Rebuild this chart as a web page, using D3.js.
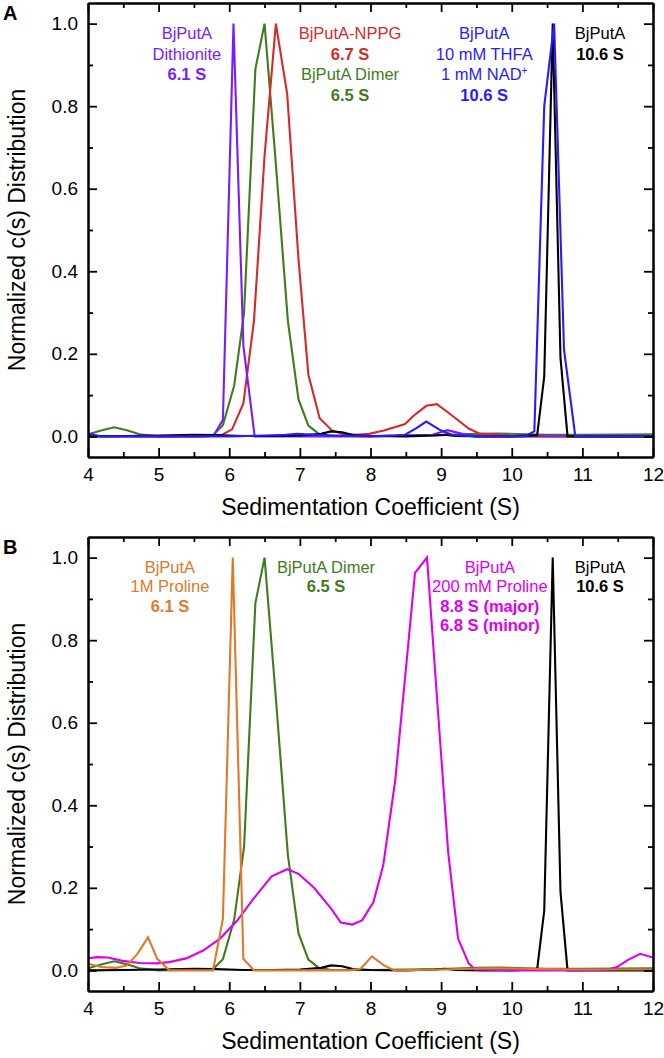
<!DOCTYPE html>
<html>
<head>
<meta charset="utf-8">
<script src="https://cdn.jsdelivr.net/npm/d3@7/dist/d3.min.js"></script>
<style>
  html, body { margin: 0; padding: 0; background: #fff; }
  svg { display: block; font-family: "Liberation Sans", Arial, sans-serif; }
</style>
</head>
<body>
<svg id="chart" width="664" height="1058"></svg>
<script>
// ---------------- DATA ----------------
const xTicks = [4, 5, 6, 7, 8, 9, 10, 11, 12];
const xMinorTicks = [4.5, 5.5, 6.5, 7.5, 8.5, 9.5, 10.5, 11.5];
const yTicks = [0, 0.2, 0.4, 0.6, 0.8, 1.0];
const yMinorTicks = [0.1, 0.3, 0.5, 0.7, 0.9];
const xTitle = "Sedimentation Coefficient (S)";
const yTitle = "Normalized c(s) Distribution";

// BjPutA (reference, 10.6 S) - shared by both panels
const blackS = [4.0, 4.5, 5.0, 5.5, 5.8, 6.2, 6.6, 7.0, 7.3, 7.44, 7.6, 7.75, 8.0, 8.5, 8.9, 9.05, 9.2, 9.6, 10.0, 10.36, 10.46, 10.58, 10.69, 10.79, 11.0, 11.5, 12.0];
const blackV = [0.0, 0.001, 0.002, 0.004, 0.003, 0.001, 0.001, 0.002, 0.006, 0.012, 0.01, 0.003, 0.001, 0.0, 0.002, 0.004, 0.001, 0.0, 0.0, 0.003, 0.145, 1.0, 0.19, 0.0, 0.0, 0.0, 0.0];

// BjPutA Dimer (6.5 S) - shared by both panels
const greenS = [4.0, 4.2, 4.37, 4.55, 4.73, 5.0, 5.5, 5.77, 5.91, 6.07, 6.21, 6.37, 6.5, 6.66, 6.83, 6.98, 7.12, 7.27, 7.45, 8.0, 8.5, 9.0, 9.5, 9.8, 10.2, 10.5, 11.0, 12.0];
const greenV = [0.005, 0.015, 0.022, 0.015, 0.005, 0.0, 0.002, 0.003, 0.027, 0.123, 0.3, 0.89, 1.0, 0.66, 0.28, 0.09, 0.026, 0.006, 0.001, 0.001, 0.002, 0.003, 0.006, 0.007, 0.005, 0.004, 0.004, 0.005];

// BjPutA-NPPG (6.7 S)
const redS = [4.0, 4.5, 5.0, 5.5, 5.9, 6.04, 6.2, 6.35, 6.5, 6.66, 6.82, 6.98, 7.12, 7.28, 7.45, 7.6, 7.8, 7.98, 8.19, 8.34, 8.49, 8.61, 8.79, 8.94, 9.09, 9.24, 9.39, 9.54, 9.72, 10.0, 10.5, 11.0, 12.0];
const redV = [0.001, 0.001, 0.0, 0.0, 0.004, 0.017, 0.08, 0.28, 0.68, 1.0, 0.83, 0.43, 0.15, 0.044, 0.015, 0.006, 0.004, 0.006, 0.014, 0.022, 0.03, 0.05, 0.074, 0.078, 0.059, 0.039, 0.019, 0.007, 0.005, 0.001, 0.0, 0.0, 0.0];

// BjPutA 10 mM THFA 1 mM NAD+ (10.6 S)
const blueS = [4.0, 4.19, 4.5, 5.0, 5.5, 6.0, 6.5, 6.8, 6.96, 7.2, 7.5, 8.0, 8.35, 8.49, 8.65, 8.79, 8.9, 9.0, 9.15, 9.5, 10.0, 10.18, 10.32, 10.46, 10.6, 10.74, 10.9, 11.0, 11.5, 12.0];
const blueV = [0.006, 0.0, 0.0, 0.0, 0.0, 0.0, 0.002, 0.004, 0.006, 0.004, 0.002, 0.0, 0.002, 0.004, 0.02, 0.036, 0.024, 0.014, 0.004, 0.0, 0.0, 0.0, 0.012, 0.8, 1.0, 0.21, 0.0, 0.0, 0.0, 0.0];

// BjPutA Dithionite (6.1 S)
const purpleS = [4.0, 5.0, 5.65, 5.78, 5.91, 6.06, 6.2, 6.36, 7.0, 8.0, 8.88, 9.09, 9.3, 9.48, 10.0, 11.0, 12.0];
const purpleV = [0.0, 0.0, 0.0, 0.002, 0.04, 1.0, 0.22, 0.0, 0.0, 0.0, 0.004, 0.015, 0.006, 0.0, 0.0, 0.0, 0.0];

// BjPutA 1M Proline (6.1 S)
const orangeS = [4.0, 4.19, 4.4, 4.55, 4.7, 4.85, 4.98, 5.15, 5.5, 5.77, 5.91, 6.05, 6.2, 6.35, 7.0, 7.7, 7.86, 8.02, 8.19, 8.34, 9.0, 9.7, 10.5, 11.0, 12.0];
const orangeV = [0.016, 0.008, 0.006, 0.012, 0.04, 0.08, 0.028, 0.0, 0.0, 0.0, 0.125, 1.0, 0.028, 0.0, 0.0, 0.0, 0.004, 0.034, 0.012, 0.0, 0.002, 0.005, 0.003, 0.002, 0.002];

// BjPutA 200 mM Proline (8.8 S major, 6.8 S minor)
const magentaS = [4.0, 4.13, 4.28, 4.49, 4.73, 4.97, 5.15, 5.39, 5.63, 5.87, 6.11, 6.35, 6.6, 6.82, 6.98, 7.2, 7.44, 7.58, 7.74, 7.88, 8.04, 8.18, 8.35, 8.49, 8.63, 8.8, 8.95, 9.1, 9.24, 9.39, 9.48, 10.0, 11.0, 11.39, 11.49, 11.64, 11.82, 12.0];
const magentaV = [0.029, 0.032, 0.031, 0.023, 0.018, 0.017, 0.02, 0.029, 0.048, 0.077, 0.12, 0.175, 0.228, 0.245, 0.234, 0.2, 0.15, 0.116, 0.111, 0.121, 0.165, 0.254, 0.46, 0.71, 0.963, 1.0, 0.64, 0.286, 0.077, 0.017, 0.002, 0.0, 0.0, 0.003, 0.008, 0.025, 0.04, 0.031];

// ---------------- STYLE / LAYOUT ----------------
const COL = {
  black: "#000000", green: "#3f7c1c", red: "#d62a2a", blue: "#2a1bff",
  purple: "#7a1cff", orange: "#e2782a", magenta: "#dd00f0"
};

const panels = [
  {
    letter: "A", top: 3, bottom: 457,
    series: [
      { s: greenS, v: greenV, c: COL.green },
      { s: redS, v: redV, c: COL.red },
      { s: purpleS, v: purpleV, c: COL.purple },
      { s: blackS, v: blackV, c: COL.black },
      { s: blueS, v: blueV, c: COL.blue }
    ],
    labels: [
      { x: 5.40, c: COL.purple, lines: [["BjPutA", false], ["Dithionite", false], ["6.1 S", true]] },
      { x: 7.71, c: COL.red, lines: [["BjPutA-NPPG", false], ["6.7 S", true]] },
      { x: 7.71, c: COL.green, start: 2, lines: [["BjPutA Dimer", false], ["6.5 S", true]] },
      { x: 9.61, c: COL.blue, lines: [["BjPutA", false], ["10 mM THFA", false], ["1 mM NAD", false, "+"], ["10.6 S", true]] },
      { x: 11.25, c: COL.black, lines: [["BjPutA", false], ["10.6 S", true]] }
    ],
    lineGap: 20.5
  },
  {
    letter: "B", top: 537, bottom: 991,
    series: [
      { s: greenS, v: greenV, c: COL.green },
      { s: blackS, v: blackV, c: COL.black },
      { s: magentaS, v: magentaV, c: COL.magenta },
      { s: orangeS, v: orangeV, c: COL.orange }
    ],
    labels: [
      { x: 5.16, c: COL.orange, lines: [["BjPutA", false], ["1M Proline", false], ["6.1 S", true]] },
      { x: 7.37, c: COL.green, lines: [["BjPutA Dimer", false], ["6.5 S", true]] },
      { x: 9.69, c: COL.magenta, lines: [["BjPutA", false], ["200 mM Proline", false], ["8.8 S (major)", true], ["6.8 S (minor)", true]] },
      { x: 11.25, c: COL.black, lines: [["BjPutA", false], ["10.6 S", true]] }
    ],
    lineGap: 19.3
  }
];

const svg = d3.select("#chart");
const L = 88, R = 653;
const x = d3.scaleLinear().domain([4, 12]).range([L, R]);

panels.forEach(p => {
  const y = d3.scaleLinear().domain([-0.05, 1.05]).range([p.bottom, p.top]);
  const g = svg.append("g");

  const clipId = "clip" + p.letter;
  svg.append("clipPath").attr("id", clipId)
    .append("rect").attr("x", L).attr("y", p.top).attr("width", R - L).attr("height", p.bottom - p.top);

  const line = d3.line().x(d => x(d[0])).y(d => y(d[1]));
  const cg = g.append("g").attr("clip-path", `url(#${clipId})`);
  p.series.forEach(sr => {
    const pts = sr.s.map((s, i) => [s, sr.v[i]]);
    cg.append("path").datum(pts)
      .attr("d", line)
      .attr("fill", "none")
      .attr("stroke", sr.c)
      .attr("stroke-width", 2.1)
      .attr("stroke-linejoin", "miter")
      .attr("stroke-miterlimit", 4);
  });

  const fmt = d3.format(".1f");
  const styleAxis = sel => {
    sel.selectAll(".domain").attr("stroke", "#000").attr("stroke-width", 2);
    sel.selectAll(".tick line").attr("stroke", "#000").attr("stroke-width", 1.8);
    sel.selectAll("text").attr("fill", "#000")
      .style("font-family", '"Liberation Sans", Arial, sans-serif');
  };

  g.append("g").attr("transform", `translate(0,${p.bottom})`)
    .call(d3.axisBottom(x).tickValues(xTicks).tickFormat(d3.format("d")).tickSize(-9).tickSizeOuter(0).tickPadding(11))
    .call(styleAxis)
    .selectAll("text").style("font-size", "19px");
  g.append("g").attr("transform", `translate(0,${p.bottom})`)
    .call(d3.axisBottom(x).tickValues(xMinorTicks).tickFormat("").tickSize(-5).tickSizeOuter(0))
    .call(styleAxis);
  g.append("g").attr("transform", `translate(0,${p.top})`)
    .call(d3.axisTop(x).tickValues(xTicks).tickFormat("").tickSize(-9).tickSizeOuter(0))
    .call(styleAxis);
  g.append("g").attr("transform", `translate(0,${p.top})`)
    .call(d3.axisTop(x).tickValues(xMinorTicks).tickFormat("").tickSize(-5).tickSizeOuter(0))
    .call(styleAxis);
  g.append("g").attr("transform", `translate(${L},0)`)
    .call(d3.axisLeft(y).tickValues(yTicks).tickFormat(fmt).tickSize(-9).tickSizeOuter(0).tickPadding(10))
    .call(styleAxis)
    .selectAll("text").style("font-size", "19px");
  g.append("g").attr("transform", `translate(${L},0)`)
    .call(d3.axisLeft(y).tickValues(yMinorTicks).tickFormat("").tickSize(-5).tickSizeOuter(0))
    .call(styleAxis);
  g.append("g").attr("transform", `translate(${R},0)`)
    .call(d3.axisRight(y).tickValues(yTicks).tickFormat("").tickSize(-9).tickSizeOuter(0))
    .call(styleAxis);
  g.append("g").attr("transform", `translate(${R},0)`)
    .call(d3.axisRight(y).tickValues(yMinorTicks).tickFormat("").tickSize(-5).tickSizeOuter(0))
    .call(styleAxis);

  g.append("text")
    .attr("x", (L + R) / 2).attr("y", p.bottom + 58)
    .attr("text-anchor", "middle")
    .style("font-size", "23px")
    .text(xTitle);
  g.append("text")
    .attr("transform", `translate(25,${(p.top + p.bottom) / 2}) rotate(-90)`)
    .attr("text-anchor", "middle")
    .style("font-size", "23px")
    .text(yTitle);

  g.append("text")
    .attr("x", 3).attr("y", p.top + 17)
    .style("font-size", "20px").style("font-weight", "bold")
    .text(p.letter);

  const base0 = p.top + 36;
  p.labels.forEach(lb => {
    const start = lb.start || 0;
    lb.lines.forEach((ln, i) => {
      const t = g.append("text")
        .attr("x", x(lb.x))
        .attr("y", base0 + (start + i) * p.lineGap)
        .attr("text-anchor", "middle")
        .attr("fill", lb.c)
        .style("font-size", "16.5px")
        .style("font-weight", ln[1] ? "bold" : "normal");
      t.append("tspan").text(ln[0]);
      if (ln[2]) {
        t.append("tspan").attr("dy", -6).style("font-size", "10px").text(ln[2]);
      }
    });
  });
});
</script>
</body>
</html>
